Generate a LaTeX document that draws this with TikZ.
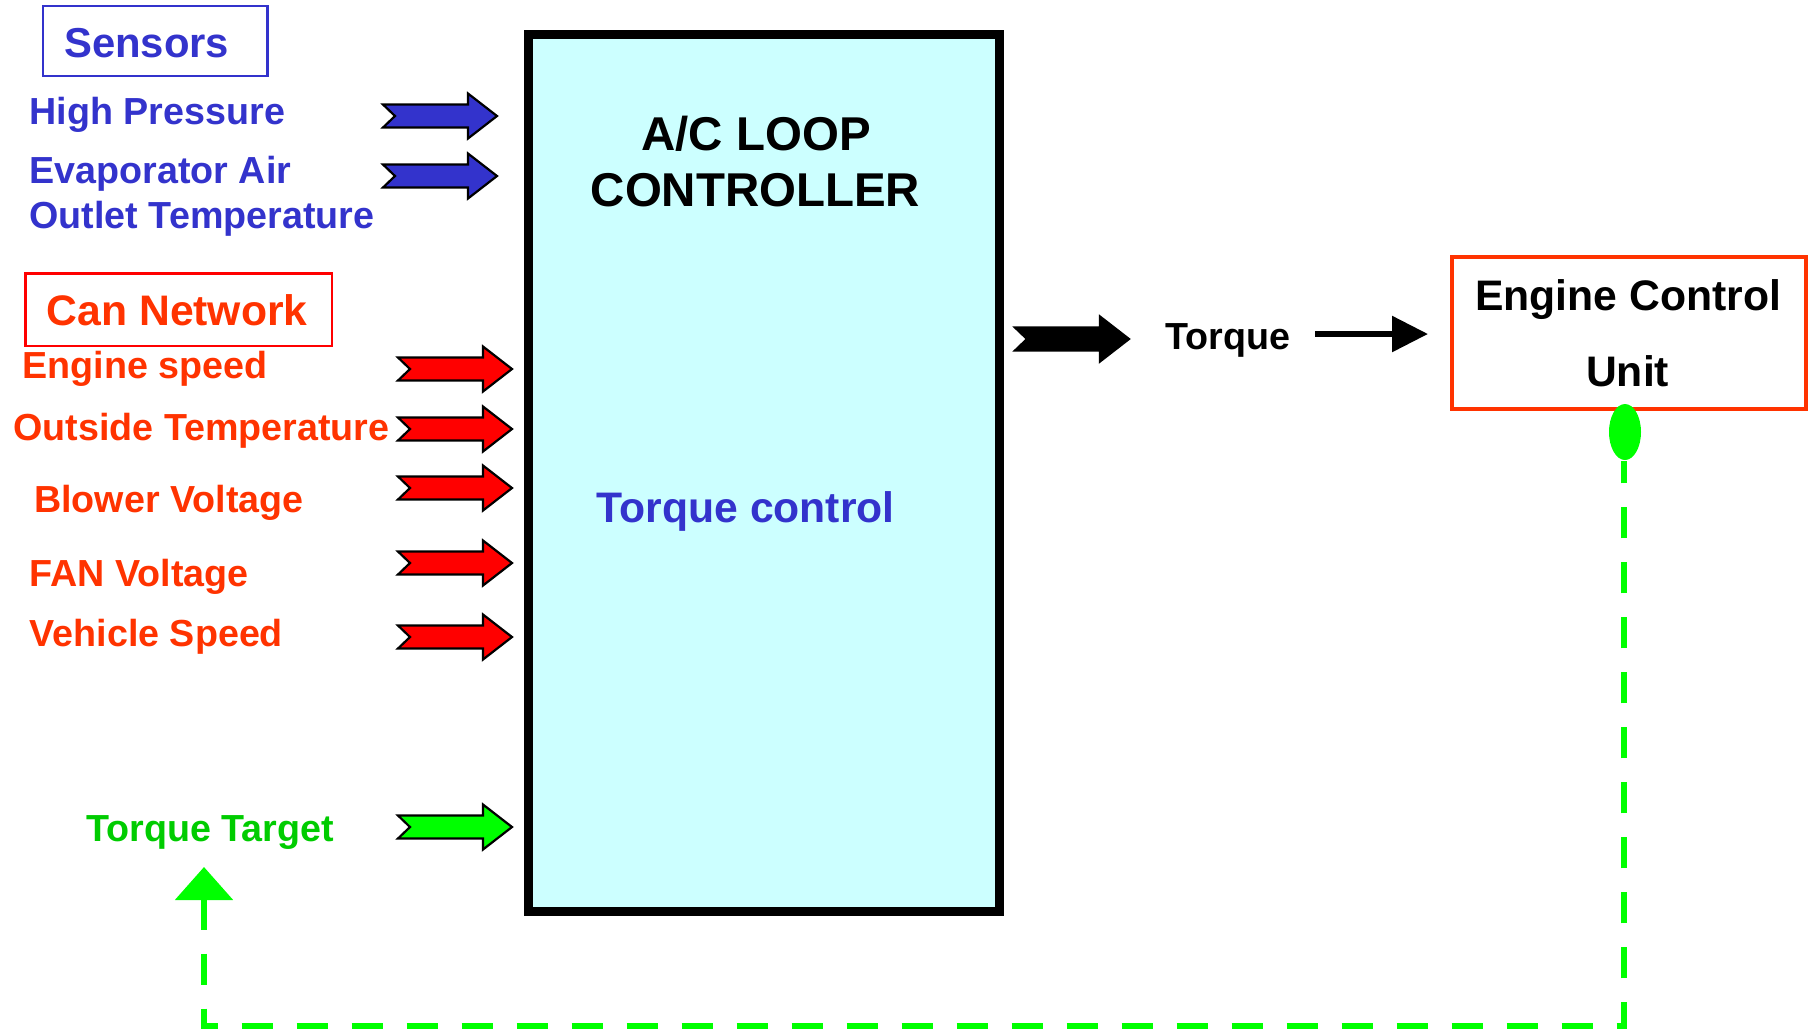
\documentclass[tikz,border=0pt]{standalone}
\usepackage{fontspec}
\setmainfont{Liberation Sans}
\usetikzlibrary{arrows.meta,shapes.geometric}
\definecolor{ublue}{HTML}{3333CC}
\definecolor{ured}{HTML}{FF3300}
\definecolor{ared}{HTML}{FF0000}
\definecolor{agreen}{HTML}{00FF00}
\definecolor{tgreen}{HTML}{00CC00}
\definecolor{ccyan}{HTML}{CCFFFF}
\tikzset{
  lbl/.style={anchor=base west, inner sep=0pt, font=\fontsize{10.72}{12}\selectfont\bfseries},
  big/.style={inner sep=0pt, font=\fontsize{12.15}{14}\selectfont\bfseries},
  title/.style={anchor=base, inner sep=0pt, font=\fontsize{13.5}{16}\selectfont\bfseries},
  pics/blk/.style={code={
    \filldraw[line width=0.22mm, line join=miter, fill=#1]
      (0,-11.5) -- (85,-11.5) -- (85,-22.5) -- (114,0) -- (85,22.5) -- (85,11.5) -- (0,11.5) -- (12,0) -- cycle;}},
}
\begin{document}
\begin{tikzpicture}[x=0.1mm, y=-0.1mm]
\useasboundingbox (0,0) rectangle (1810,1034);

% main controller box
\node[draw, line width=0.9mm, fill=ccyan, minimum width=47.1mm, minimum height=87.7mm, inner sep=0pt] (ctrl) at (764,473) {};
\node[title] (t1) at (756,150) {A/C LOOP};
\node[title] (t2) at (755.5,206.5) {CONTROLLER};
\node[big, anchor=base, text=ublue] (tc) at (745.7,522) {Torque control};

% sensors
\node[draw=ublue, line width=0.25mm, minimum width=22.47mm, minimum height=7.0mm, inner sep=0pt] (sensbox) at (155.3,41) {};
\node[lbl, text=ublue, font=\fontsize{11.9}{14}\selectfont\bfseries] (sens) at (63.5,57) {Sensors};
\node[lbl, text=ublue] (hp) at (28.9,124) {High Pressure};
\node[lbl, text=ublue] (ev) at (28.9,183) {Evaporator Air};
\node[lbl, text=ublue] (ot) at (28.9,228) {Outlet Temperature};
\pic at (383,116) {blk=ublue};
\pic at (383,176) {blk=ublue};

% can network
\node[draw=ared, line width=0.25mm, minimum width=30.65mm, minimum height=7.25mm, inner sep=0pt] (canbox) at (178.8,309.8) {};
\node[lbl, text=ured, font=\fontsize{12.15}{14}\selectfont\bfseries] (can) at (46,325) {Can Network};
\node[lbl, text=ured] (es) at (22,378) {Engine speed};
\node[lbl, text=ured] (ots) at (12.7,440) {Outside Temperature};
\node[lbl, text=ured] (bv) at (33.5,512) {Blower Voltage};
\node[lbl, text=ured] (fv) at (28.9,586) {FAN Voltage};
\node[lbl, text=ured] (vs) at (28.9,646) {Vehicle Speed};
\pic at (398,369) {blk=ared};
\pic at (398,429) {blk=ared};
\pic at (398,488) {blk=ared};
\pic at (398,563) {blk=ared};
\pic at (398,637) {blk=ared};

% torque target
\node[lbl, text=tgreen] (tt) at (85.4,841) {Torque Target};
\pic at (398,827) {blk=agreen};

% output torque
\pic at (1015,339) {blk=black};
\node[lbl] (torq) at (1164.7,349) {Torque};
\coordinate (ts) at (1315,334);
\coordinate (te) at (1428,334);
\draw[line width=0.58mm, -{Triangle[length=3.6mm,width=3.5mm]}] (ts) -- (te);

% ECU
\node[draw=ured, line width=0.4mm, minimum width=35.36mm, minimum height=15.2mm, inner sep=0pt] (ecu) at (1628.8,332.6) {};
\node[big, anchor=base] (ecu1) at (1628,310) {Engine Control};
\node[big, anchor=base] (ecu2) at (1627.6,386) {Unit};
\node[ellipse, fill=agreen, minimum width=3.2mm, minimum height=5.6mm, inner sep=0pt] (dot) at (1625,432) {};

% feedback
\coordinate (c1) at (1624,1026);
\coordinate (c2) at (204,1026);
\coordinate (tipT) at (204,867);
\draw[agreen, line width=0.58mm, line join=miter, dash pattern=on 3.1mm off 2.4mm, {Triangle[length=3.3mm,width=5.7mm]}-]
  (tipT) -- (c2) -- (c1) -- (dot.south -| c1);
\end{tikzpicture}
\end{document}
